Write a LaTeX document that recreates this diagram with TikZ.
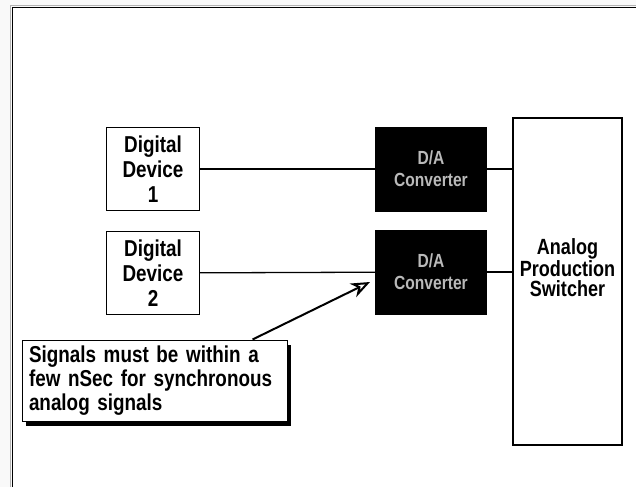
\documentclass[tikz,border=0pt]{standalone}
\usepackage{fontspec}
\setmainfont[FakeStretch=0.82]{Liberation Sans}
\usetikzlibrary{arrows.meta, shadows, calc}

\tikzset{
    devbox/.style={draw, line width=1.3pt, minimum width=93pt, minimum height=83pt,
        align=center, font=\bfseries\fontsize{23}{25}\selectfont, inner sep=0pt},
    dacbox/.style={draw, fill=black, line width=1pt, minimum width=111pt, minimum height=84pt,
        align=center, text=gray!55, font=\bfseries\fontsize{19}{22}\selectfont, inner sep=0pt},
    link/.style={line width=1.3pt}
}

\begin{document}
\begin{tikzpicture}[x=1pt, y=-1pt]
    \useasboundingbox (0,0) rectangle (636,487);
    \fill[gray!5] (0,0) rectangle (636,487);
    \fill[white] (12,7) rectangle (636,487);
    \draw[gray!60, line width=0.8pt] (10.5,487) -- (10.5,5.5) -- (636,5.5);
    \draw[line width=1.2pt] (12.5,487) -- (12.5,7.5) -- (636,7.5);

    \node (Dev1) [devbox] at (153,169) {Digital\\Device\\1};
    \node (Dev2) [devbox] at (153,273) {Digital\\Device\\2};
    \node (Dac1) [dacbox] at (431,169) {D/A\\Converter};
    \node (Dac2) [dacbox] at (431,272) {D/A\\Converter};
    \node (Sw) [draw, line width=1.3pt, minimum width=109pt, minimum height=327pt,
        align=center, inner sep=0pt, font=\bfseries\fontsize{22}{20}\selectfont]
        at (567.5,281.5) {Analog\\Production\\Switcher\\[8pt]};
    \node (Note) [draw, fill=white, line width=1pt, minimum width=265pt, minimum height=81pt,
        text width=255pt, align=left, inner sep=4pt,
        font=\bfseries\fontsize{23}{24}\selectfont,
        drop shadow={shadow xshift=4pt, shadow yshift=-5pt, fill=black, opacity=1}]
        at (154.5,380.5) {\hspace{2pt}Signals must be within a\\\hspace{2pt}few nSec for synchronous\\\hspace{2pt}analog signals};
    \coordinate (Tip) at (370,282);

    \draw[link] (Dev1) -- (Dac1);
    \draw[link] (Dev2) -- (Dac2);
    \draw[link] (Dac1.east) -- (Dac1.east -| Sw.west);
    \draw[link] (Dac2.east) -- (Dac2.east -| Sw.west);
    \draw[line width=2pt, -{Stealth[open, length=19pt, width=15pt, inset=6pt]}]
        ([xshift=98pt]Note.north) -- (Tip);
\end{tikzpicture}
\end{document}
